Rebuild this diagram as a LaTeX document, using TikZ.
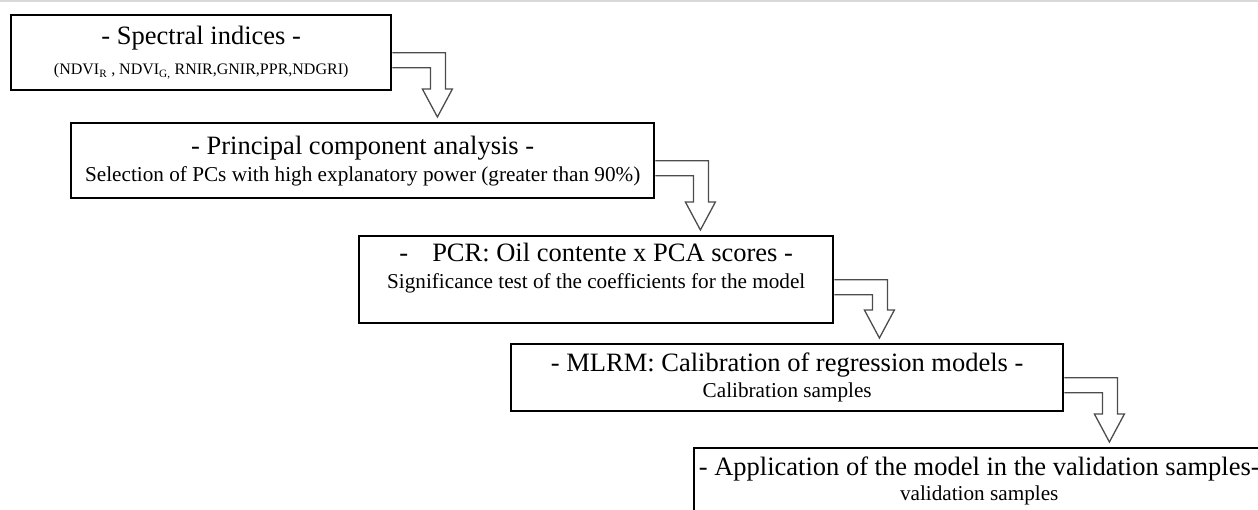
\documentclass[tikz,border=0pt]{standalone}
\usepackage{fontspec}
\setmainfont{Liberation Serif}
\usetikzlibrary{calc}
\newcommand{\steptitle}{\fontsize{26.5}{27}\selectfont}
\newcommand{\stepnote}{\fontsize{21.2}{27}\selectfont}
\begin{document}
\begin{tikzpicture}[x=1pt, y=-1pt,
  stepbox/.style={draw, line width=2.4pt, align=center, anchor=north west, inner sep=0pt, font=\stepnote},
  flowline/.style={draw=black!70, line width=1.3pt, line join=miter}]
  \clip (0,0) rectangle (1258,509);
  \draw[black!15, line width=1.5pt] (0,0.75) -- (1258,0.75);

  % etapas
  \node[stepbox, minimum width=380pt, minimum height=75pt] (s1) at (10,14)
    {\steptitle - Spectral indices -\\[3pt] \fontsize{16}{18}\selectfont (NDVI\textsubscript{R} , NDVI\textsubscript{G,} RNIR,GNIR,PPR,NDGRI)};
  \node[stepbox, minimum width=583pt, minimum height=75pt] (s2) at (70,122)
    {\steptitle - Principal component analysis -\\ \stepnote Selection of PCs with high explanatory power (greater than 90\%)};
  \node[stepbox, minimum width=474pt, minimum height=87pt] (s3) at (358,235)
    {\steptitle -\hspace{24pt}PCR: Oil contente x PCA scores -\\ \stepnote Significance test of the coefficients for the model\\ ~};
  \node[stepbox, minimum width=552pt, minimum height=67pt] (s4) at (510,343)
    {\steptitle - MLRM: Calibration of regression models -\\[-1pt] \stepnote Calibration samples};
  \node[stepbox, minimum width=570pt, minimum height=87pt] (s5) at (693,447)
    {\steptitle - Application of the model in the validation samples-\\[-2pt] \stepnote validation samples\\ ~};

  % setas de bloco
  \foreach \a/\b in {s1/s2, s2/s3, s3/s4, s4/s5}
    \draw[flowline] let \p1=(\a.east), \p2=(\b.north) in
      (\x1,\y1) -- (\x1+53pt,\y1) -- (\x1+53pt,\y2+33pt) -- (\x1+60pt,\y2+33pt)
      -- (\x1+45pt,\y2+5pt) -- (\x1+30pt,\y2+33pt) -- (\x1+38pt,\y2+33pt)
      -- (\x1+38pt,\y1-15pt) -- (\x1,\y1-15pt);
\end{tikzpicture}
\end{document}
